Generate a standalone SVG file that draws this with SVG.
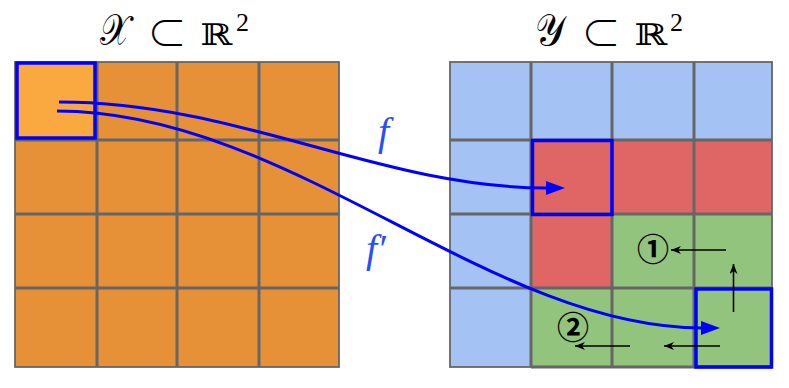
<svg xmlns="http://www.w3.org/2000/svg" width="789" height="388" viewBox="0 0 789 388">
<style>
.or{fill:#e69138}
.orh{fill:#f9a93f}
.bl{fill:#a4c2f4}
.rd{fill:#e06666}
.gr{fill:#93c47d}
.gl{stroke:#666666;stroke-width:3;fill:none}
.gb{stroke:#666666;stroke-width:1.8;fill:none}
.hl{stroke:#0000ff;stroke-width:3.5;fill:none}
.t{font-family:"DejaVu Serif","Liberation Serif",serif;fill:#000}
.cal{font-size:44px}
.sub{font-size:40px;font-family:"Noto Sans CJK JP",sans-serif;font-weight:300}
.rr{font-size:30px}
.sup{font-family:"Liberation Serif",serif;font-size:26px}
.lab{font-family:"Liberation Serif",serif;font-style:italic;font-size:40px;fill:#2a4ff0}
.num{font-family:"Noto Sans CJK SC","DejaVu Sans",sans-serif;font-size:32px;font-weight:bold;fill:#000}
.fa{stroke:#0000ff;stroke-width:3;fill:none}
.sa{stroke:#000;stroke-width:1.6;fill:none;marker-end:url(#ah)}
</style>
<defs>
<marker id="bh" markerUnits="userSpaceOnUse" markerWidth="20" markerHeight="16" refX="1" refY="7" orient="auto">
<path d="M0,0 L19,7 L0,14 z" fill="#0000ff"/>
</marker>
<marker id="ah" markerUnits="userSpaceOnUse" markerWidth="12" markerHeight="10" refX="10" refY="4" orient="auto">
<path d="M0,0 L10,4 L0,8 L3,4 z" fill="#000"/>
</marker>
</defs>

<g id="titleX">
<text class="t cal" x="100" y="45" textLength="30" lengthAdjust="spacingAndGlyphs">𝒳</text>
<text class="t sub" x="167" y="48" text-anchor="middle">⊂</text>
<text class="t rr" x="200" y="45" textLength="32" lengthAdjust="spacingAndGlyphs">ℝ</text>
<text class="t sup" x="236" y="31">2</text>
</g>
<g id="titleY">
<text class="t cal" x="535" y="45" textLength="30" lengthAdjust="spacingAndGlyphs">𝒴</text>
<text class="t sub" x="601" y="48" text-anchor="middle">⊂</text>
<text class="t rr" x="634" y="45" textLength="33" lengthAdjust="spacingAndGlyphs">ℝ</text>
<text class="t sup" x="670" y="31">2</text>
</g>

<g id="gridX">
<rect class="or" x="15" y="62" width="324" height="305"/>
<rect class="orh" x="15" y="62" width="82" height="78"/>
<path class="gl" d="M97,62V367M177,62V367M259,62V367M15,140H339M15,214H339M15,288H339"/>
<rect class="gb" x="15" y="62" width="324" height="305"/>
</g>

<g id="gridY">
<rect class="bl" x="450" y="62" width="322" height="305"/>
<rect class="rd" x="531" y="140" width="241" height="74"/>
<rect class="rd" x="531" y="214" width="81" height="74"/>
<rect class="gr" x="612" y="214" width="160" height="74"/>
<rect class="gr" x="531" y="288" width="241" height="79"/>
<path class="gl" d="M531,62V367M612,62V367M694,62V367M450,140H772M450,214H772M450,288H772M531,367H772"/>
<rect class="gb" x="450" y="62" width="322" height="305"/>
</g>

<g id="hlX"><rect class="hl" x="17" y="63" width="78" height="75"/></g>
<g id="hlY1"><rect class="hl" x="532.5" y="140.5" width="79.5" height="74"/></g>
<g id="hlY2"><rect class="hl" x="696" y="289" width="75.5" height="78"/></g>

<g id="connectors">
<path class="fa" d="M59,102 C240,102 380,188 547,188" marker-end="url(#bh)"/>
<path class="fa" d="M57,111 C290,111 489,328 702,328" marker-end="url(#bh)"/>
<path class="sa" d="M726,250 H671"/>
<path class="sa" d="M733.5,312 V264"/>
<path class="sa" d="M720,346 H664"/>
<path class="sa" d="M630,346 H575"/>
</g>

<text class="lab" x="378" y="145">f</text>
<text class="lab" x="366" y="262">f′</text>
<text class="num" x="653" y="261" text-anchor="middle">①</text>
<text class="num" x="573" y="339" text-anchor="middle">②</text>
</svg>
